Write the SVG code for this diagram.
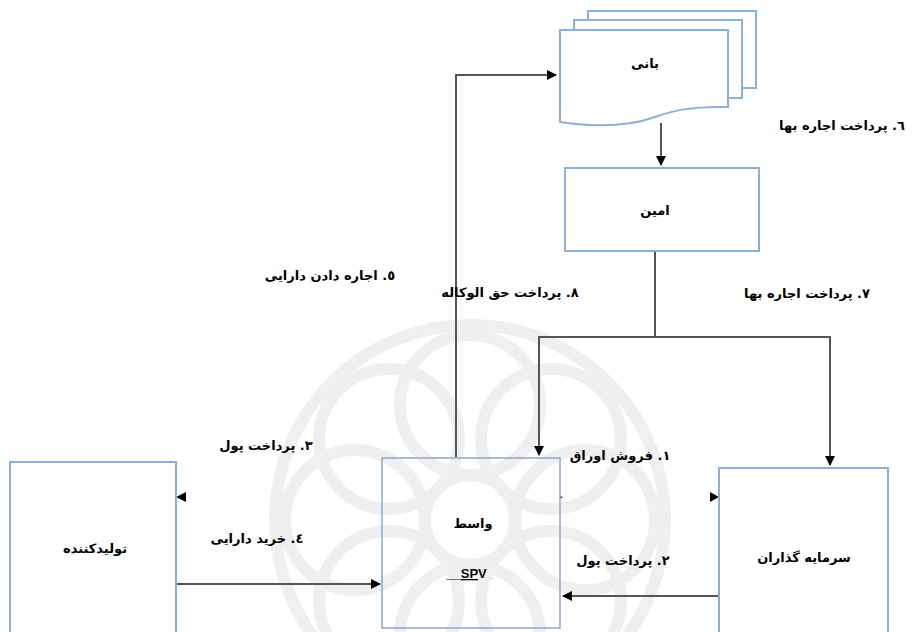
<svg xmlns="http://www.w3.org/2000/svg" width="912" height="632" viewBox="0 0 912 632">
<style>
.box{fill:#fff;stroke:#8db0d9;stroke-width:2}
.box2{fill:none;stroke:#8aa9ce;stroke-width:1.5}
.con{fill:none;stroke:#555;stroke-width:2}
.lbl{font-family:"DejaVu Sans",sans-serif;font-weight:bold;font-size:13px;fill:#000;text-anchor:middle}
.wm{fill:none;stroke:#ececec;stroke-width:12}
</style>
<defs>
<marker id="ah" viewBox="0 0 10 10" refX="9" refY="5" markerWidth="5" markerHeight="5" orient="auto" markerUnits="strokeWidth">
<path d="M0,0 L10,5 L0,10 Z" fill="#000"/>
</marker>
</defs>
<rect width="912" height="632" fill="#fff"/>
<g id="watermark" opacity="0.8">
<circle class="wm" cx="470" cy="520" r="195" stroke-width="8"/>
<g transform="translate(470,520)">
<circle class="wm" cx="0" cy="-115" r="70"/>
<circle class="wm" cx="81" cy="-81" r="70"/>
<circle class="wm" cx="115" cy="0" r="70"/>
<circle class="wm" cx="81" cy="81" r="70"/>
<circle class="wm" cx="-81" cy="81" r="70"/>
<circle class="wm" cx="-115" cy="0" r="70"/>
<circle class="wm" cx="-81" cy="-81" r="70"/>
<circle class="wm" cx="0" cy="115" r="70"/>
<circle class="wm" cx="0" cy="0" r="45"/>
</g>
</g>
<g id="connectors">
<polyline class="con" points="456,457 456,75 556,75" marker-end="url(#ah)"/>
<line class="con" x1="661" y1="123" x2="661" y2="165" marker-end="url(#ah)"/>
<line class="con" x1="655" y1="252" x2="655" y2="337"/>
<polyline class="con" points="539,455 539,337 655,337"/>
<line class="con" x1="539" y1="340" x2="539" y2="455" marker-end="url(#ah)"/>
<polyline class="con" points="655,337 830,337 830,465" marker-end="url(#ah)"/>
<line class="con" x1="176" y1="584" x2="380" y2="584" marker-end="url(#ah)"/>
<line class="con" x1="719" y1="596" x2="563" y2="596" marker-end="url(#ah)"/>
<path d="M176,497 L186,492 L186,502 Z" fill="#000"/>
<path d="M719,497 L710,492 L710,502 Z" fill="#000"/>
<path d="M560,496 L563,497 L560,499 Z" fill="#333"/>
</g>
<g id="node-bani">
<path class="box" d="M588,20 V11 H756 V88 H742"/>
<path class="box" d="M574,30 V20 H742 V98 H728"/>
<path class="box" d="M560,30 H728 V107 C690,106 672,111 655,117 C630,126 600,128 560,122 Z"/>
<text class="lbl" x="645" y="68">بانی</text>
</g>
<g id="node-amin">
<rect class="box" x="565" y="168" width="194" height="83"/>
<text class="lbl" x="655" y="215">امین</text>
</g>
<g id="node-spv">
<rect class="box2" x="382" y="458" width="178" height="170"/>
<text class="lbl" x="473" y="528">واسط</text>
<text class="lbl" x="470" y="578" style="font-family:'Liberation Sans',sans-serif">__<tspan text-decoration="underline">SP</tspan>V <tspan font-size="6">_</tspan></text>
</g>
<g id="node-producer">
<rect class="box" x="10" y="462" width="166" height="180"/>
<text class="lbl" x="95" y="553">تولیدکننده</text>
</g>
<g id="node-investors">
<rect class="box" x="719" y="468" width="169" height="180"/>
<text class="lbl" x="804" y="562">سرمایه گذاران</text>
</g>
<g id="labels">
<text class="lbl" x="842" y="130" direction="rtl">٦. پرداخت اجاره بها</text>
<text class="lbl" x="330" y="280" direction="rtl">٥. اجاره دادن دارایی</text>
<text class="lbl" x="510" y="297" direction="rtl">٨. پرداخت حق الوکاله</text>
<text class="lbl" x="807" y="298" direction="rtl">٧. پرداخت اجاره بها</text>
<text class="lbl" x="266" y="450" direction="rtl">٣. پرداخت پول</text>
<text class="lbl" x="257" y="543" direction="rtl">٤. خرید دارایی</text>
<text class="lbl" x="620" y="460" direction="rtl">١. فروش اوراق</text>
<text class="lbl" x="623" y="565" direction="rtl">٢. پرداخت پول</text>
</g>
</svg>
